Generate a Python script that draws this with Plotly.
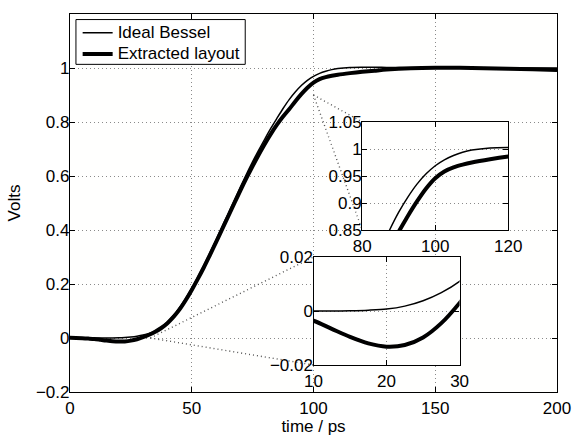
import plotly.graph_objects as go

# ---------------- data ----------------
t_ps = [0, 2.5, 5, 7.5, 10, 12.5, 15, 17.5, 20, 22.5, 25, 27.5, 30, 32.5, 35, 37.5,
        40, 42.5, 45, 47.5, 50, 52.5, 55, 57.5, 60, 62.5, 65, 67.5, 70, 72.5, 75,
        77.5, 80, 82.5, 85, 87.5, 90, 92.5, 95, 97.5, 100, 102.5, 105, 107.5, 110,
        115, 120, 125, 130, 140, 150, 160, 170, 180, 190, 200]

ideal_bessel = [0, 0, 0, 0, 0, 0.0, 0.0001, 0.0003, 0.0007, 0.0018, 0.0038, 0.0068,
                0.0110, 0.0170, 0.0260, 0.0400, 0.0590, 0.0830, 0.1130, 0.1470,
                0.1850, 0.2260, 0.2700, 0.3160, 0.3640, 0.4130, 0.4620, 0.5110,
                0.5600, 0.6070, 0.6530, 0.6960, 0.7370, 0.7770, 0.8140, 0.8500,
                0.8830, 0.9110, 0.9350, 0.9540, 0.9690, 0.9800, 0.9880, 0.9940,
                0.9980, 1.0020, 1.0030, 1.0030, 1.0020, 1.0010, 1.0000, 1.0000,
                1.0000, 1.0000, 1.0000, 1.0000]

extracted_layout = [0.0005, 0.0, -0.0010, -0.0022, -0.0036, -0.0066, -0.0096, -0.0120,
                    -0.0132, -0.0126, -0.0098, -0.0045, 0.0030, 0.0120, 0.0230, 0.0370,
                    0.0550, 0.0780, 0.1060, 0.1400, 0.1780, 0.2190, 0.2620, 0.3080,
                    0.3550, 0.4030, 0.4510, 0.4990, 0.5470, 0.5930, 0.6370, 0.6790,
                    0.7190, 0.7560, 0.7900, 0.8200, 0.8470, 0.8760, 0.9030, 0.9270,
                    0.9460, 0.9585, 0.9660, 0.9710, 0.9750, 0.9810, 0.9860, 0.9900,
                    0.9940, 0.9990, 1.0010, 1.0010, 0.9990, 0.9970, 0.9950, 0.9930]

series_names = ["Ideal Bessel", "Extracted layout"]

main_xticks = [0, 50, 100, 150, 200]
main_yticks = [-0.2, 0, 0.2, 0.4, 0.6, 0.8, 1]
main_yticklabels = ["\u22120.2", "0", "0.2", "0.4", "0.6", "0.8", "1"]

zoom1_xticks = [80, 100, 120]
zoom1_yticks = [0.85, 0.9, 0.95, 1, 1.05]
zoom1_yticklabels = ["0.85", "0.9", "0.95", "1", "1.05"]

zoom2_xticks = [10, 20, 30]
zoom2_yticks = [-0.02, 0, 0.02]
zoom2_yticklabels = ["\u22120.02", "0", "0.02"]

# ---------------- layout constants ----------------
MAIN_X = [0, 200]
MAIN_Y = [-0.2, 1.2]
ZOOM1_X = [80, 120]
ZOOM1_Y = [0.85, 1.05]
ZOOM2_X = [10, 30]
ZOOM2_Y = [-0.02, 0.02]
# inset boxes placed in main-axis data units
INSET1_BOX = dict(x=(120, 180), y=(0.4, 0.8))
INSET2_BOX = dict(x=(100, 160), y=(-0.1, 0.3))
# point in main axes where the connector lines converge
SRC1 = (100, 0.9)
SRC2 = (33, 0.0)

FONT = "Liberation Sans, Arial, Helvetica, sans-serif"
FS = 17


def to_dom(box, rx, ry):
    dx = [(v - rx[0]) / (rx[1] - rx[0]) for v in box["x"]]
    dy = [(v - ry[0]) / (ry[1] - ry[0]) for v in box["y"]]
    return dx, dy


d1x, d1y = to_dom(INSET1_BOX, MAIN_X, MAIN_Y)
d2x, d2y = to_dom(INSET2_BOX, MAIN_X, MAIN_Y)

widths = [1.5, 4]

fig = go.Figure()

# connector lines (main axes, drawn beneath insets)
for src, box in ((SRC1, INSET1_BOX), (SRC2, INSET2_BOX)):
    for yc in (box["y"][1], box["y"][0]):
        fig.add_trace(go.Scatter(
            x=[src[0], box["x"][0]], y=[src[1], yc], mode="lines",
            line=dict(color="#555555", width=1.4, dash="1px,3px"),
            showlegend=False, hoverinfo="skip", xaxis="x", yaxis="y"))

ys = [ideal_bessel, extracted_layout]
for ax_x, ax_y, leg in (("x", "y", True), ("x2", "y2", False), ("x3", "y3", False)):
    for name, yv, w in zip(series_names, ys, widths):
        fig.add_trace(go.Scatter(
            x=t_ps, y=yv, mode="lines",
            name='<span style="font-size:17px">%s</span>' % name,
            line=dict(color="black", width=w, shape="spline", smoothing=0.8),
            showlegend=leg, xaxis=ax_x, yaxis=ax_y, hoverinfo="skip"))


def axis_style(**kw):
    d = dict(
        showline=True, linecolor="black", linewidth=1.3, mirror="ticks",
        ticks="inside", ticklen=5, tickwidth=1, tickcolor="black",
        showgrid=True, gridcolor="#8a8a8a", gridwidth=1, griddash="1px,3px",
        zeroline=False, tickfont=dict(family=FONT, size=FS, color="black"),
        fixedrange=True,
    )
    d.update(kw)
    return d


fig.update_layout(
    width=576, height=436,
    margin=dict(l=70, r=14, t=5, b=43),
    paper_bgcolor="white", plot_bgcolor="#fffffe",
    font=dict(family=FONT, size=FS, color="black"),
    hovermode=False,
    xaxis=axis_style(range=MAIN_X, tickvals=main_xticks, domain=[0, 1],
                     title=dict(text="time / ps", standoff=2,
                                font=dict(family=FONT, size=FS))),
    yaxis=axis_style(range=MAIN_Y, tickvals=main_yticks, ticktext=main_yticklabels,
                     domain=[0, 1], ticklabelstandoff=-4,
                     title=dict(text="Volts", standoff=10,
                                font=dict(family=FONT, size=FS))),
    xaxis2=axis_style(range=ZOOM1_X, tickvals=zoom1_xticks, domain=d1x, anchor="y2"),
    yaxis2=axis_style(range=ZOOM1_Y, tickvals=zoom1_yticks, ticktext=zoom1_yticklabels,
                      domain=d1y, anchor="x2", ticklabelstandoff=-4),
    xaxis3=axis_style(range=ZOOM2_X, tickvals=zoom2_xticks, domain=d2x, anchor="y3"),
    yaxis3=axis_style(range=ZOOM2_Y, tickvals=zoom2_yticks, ticktext=zoom2_yticklabels,
                      domain=d2y, anchor="x3", ticklabelstandoff=-4),
    legend=dict(x=0.0157, y=0.9918, xanchor="left", yanchor="top",
                bgcolor="rgba(0,0,0,0)", borderwidth=0,
                font=dict(family=FONT, size=14, color="black"),
                itemwidth=30, tracegroupgap=0, itemclick=False,
                itemdoubleclick=False),
    showlegend=True,
    shapes=[dict(type="rect", xref="paper", yref="paper",
                 x0=0.0122, x1=0.3598, y0=0.8668, y1=0.9853,
                 line=dict(color="black", width=1), fillcolor="white",
                 layer="above")],
)

fig.write_html("out.html",
               config={"displayModeBar": False, "staticPlot": False},
               post_script="document.body.style.margin='0';"
                           "document.body.style.overflow='hidden';")
